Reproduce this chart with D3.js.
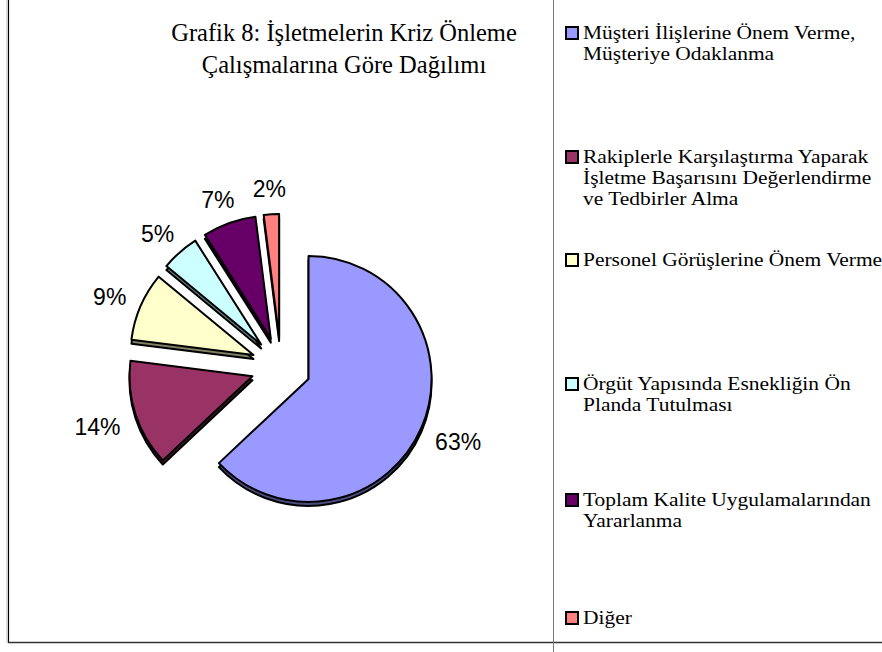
<!DOCTYPE html>
<html>
<head>
<meta charset="utf-8">
<script src="https://cdn.jsdelivr.net/npm/d3@7"></script>
<style>
  body { margin: 0; background: #fff; }
  svg { display: block; }
</style>
</head>
<body>
<svg id="chart"></svg>
<script>
const width = 882;
const height = 652;

// data
const titleLines = ["Grafik 8: İşletmelerin Kriz Önleme", "Çalışmalarına Göre Dağılımı"];
const categories = [
  ["Müşteri İlişlerine Önem Verme,", "Müşteriye Odaklanma"],
  ["Rakiplerle Karşılaştırma Yaparak", "İşletme Başarısını Değerlendirme", "ve Tedbirler Alma"],
  ["Personel Görüşlerine Önem Verme"],
  ["Örgüt Yapısında Esnekliğin Ön", "Planda Tutulması"],
  ["Toplam Kalite Uygulamalarından", "Yararlanma"],
  ["Diğer"]
];
const values = [63, 14, 9, 5, 7, 2];
const colors = ["#9999FF", "#993366", "#FFFFCC", "#CCFFFF", "#660066", "#FF8080"];

// layout
const cx = 281, cy = 367;
const radius = 123;
const explode = 30;
const depth = 4;
const labelDist = 170;
const legendX = 565;
const legendBaselines = [39, 163, 266, 390, 506, 624];
const lineH = 21;

const svg = d3.select('#chart')
  .attr('width', width)
  .attr('height', height);

// frame
svg.append('line')
  .attr('x1', 8.5).attr('y1', 0).attr('x2', 8.5).attr('y2', 643)
  .attr('stroke', '#000').attr('stroke-width', 1.2);
svg.append('line')
  .attr('x1', 7).attr('y1', 0).attr('x2', 7).attr('y2', 643)
  .attr('stroke', '#bbb').attr('stroke-width', 1);
svg.append('line')
  .attr('x1', 8).attr('y1', 642.5).attr('x2', width).attr('y2', 642.5)
  .attr('stroke', '#333').attr('stroke-width', 1.4);
svg.append('line')
  .attr('x1', 553.5).attr('y1', 0).attr('x2', 553.5).attr('y2', height)
  .attr('stroke', '#777').attr('stroke-width', 1);

// title
svg.append('text')
  .attr('font-family', "'Liberation Serif', 'Times New Roman', serif")
  .attr('font-size', 24.5)
  .attr('text-anchor', 'middle')
  .attr('fill', '#000')
  .selectAll('tspan')
  .data(titleLines)
  .enter().append('tspan')
    .attr('x', 344)
    .attr('y', (d, i) => 41 + i * 32)
    .text(d => d);

// pie
const pie = d3.pie().sort(null).value(d => d);
const arcs = pie(values);
const arc = d3.arc().innerRadius(0).outerRadius(radius);

function dir(a) {
  const m = (a.startAngle + a.endAngle) / 2;
  return [Math.sin(m), -Math.cos(m)];
}

function darker(c) {
  const r = d3.rgb(c);
  return d3.rgb(r.r * 0.5, r.g * 0.5, r.b * 0.5).formatHex();
}

const pieG = svg.append('g');

pieG.selectAll('path.side')
  .data(arcs)
  .enter().append('path')
    .attr('class', 'side')
    .attr('d', arc)
    .attr('transform', d => {
      const u = dir(d);
      return `translate(${cx + explode * u[0]},${cy + explode * u[1] + depth})`;
    })
    .attr('fill', (d, i) => darker(colors[i]))
    .attr('stroke', '#000')
    .attr('stroke-width', 2)
    .attr('stroke-linejoin', 'round');

pieG.selectAll('path.top')
  .data(arcs)
  .enter().append('path')
    .attr('class', 'top')
    .attr('d', arc)
    .attr('transform', d => {
      const u = dir(d);
      return `translate(${cx + explode * u[0]},${cy + explode * u[1]})`;
    })
    .attr('fill', (d, i) => colors[i])
    .attr('stroke', '#000')
    .attr('stroke-width', 2)
    .attr('stroke-linejoin', 'round');

const total = d3.sum(values);
const labels = pieG.selectAll('text.pct')
  .data(arcs)
  .enter().append('text')
    .attr('class', 'pct')
    .attr('font-family', "'Liberation Sans', Arial, sans-serif")
    .attr('font-size', 23)
    .attr('text-anchor', 'middle')
    .attr('fill', '#000')
    .text(d => Math.round(d.value / total * 100) + '%');

labels.each(function(d) {
  const u = dir(d);
  const w = this.getComputedTextLength();
  const h = 17;
  const x = cx + labelDist * u[0] + w / 2 * u[0];
  const y = cy + labelDist * u[1] + h / 2 * u[1] + (u[1] > 0 ? 4 : 0);
  d3.select(this).attr('x', x).attr('y', y + h / 2);
});

// legend
const legend = svg.append('g')
  .selectAll('g')
  .data(categories)
  .enter().append('g');

legend.append('rect')
  .attr('x', legendX + 1)
  .attr('y', (d, i) => legendBaselines[i] - 12)
  .attr('width', 12)
  .attr('height', 12)
  .attr('fill', (d, i) => colors[i])
  .attr('stroke', '#000')
  .attr('stroke-width', 2);

// the legend text in the picture is wider than a plain Times face
legend.append('text')
  .attr('transform', `translate(${legendX + 18},0) scale(1.16,1)`)
  .attr('font-family', "'Liberation Serif', 'Times New Roman', serif")
  .attr('font-size', 18.5)
  .attr('fill', '#000')
  .each(function(lines, i) {
    d3.select(this).selectAll('tspan')
      .data(lines)
      .enter().append('tspan')
        .attr('x', 0)
        .attr('y', (d, j) => legendBaselines[i] + j * lineH)
        .text(d => d);
  });
</script>
</body>
</html>
